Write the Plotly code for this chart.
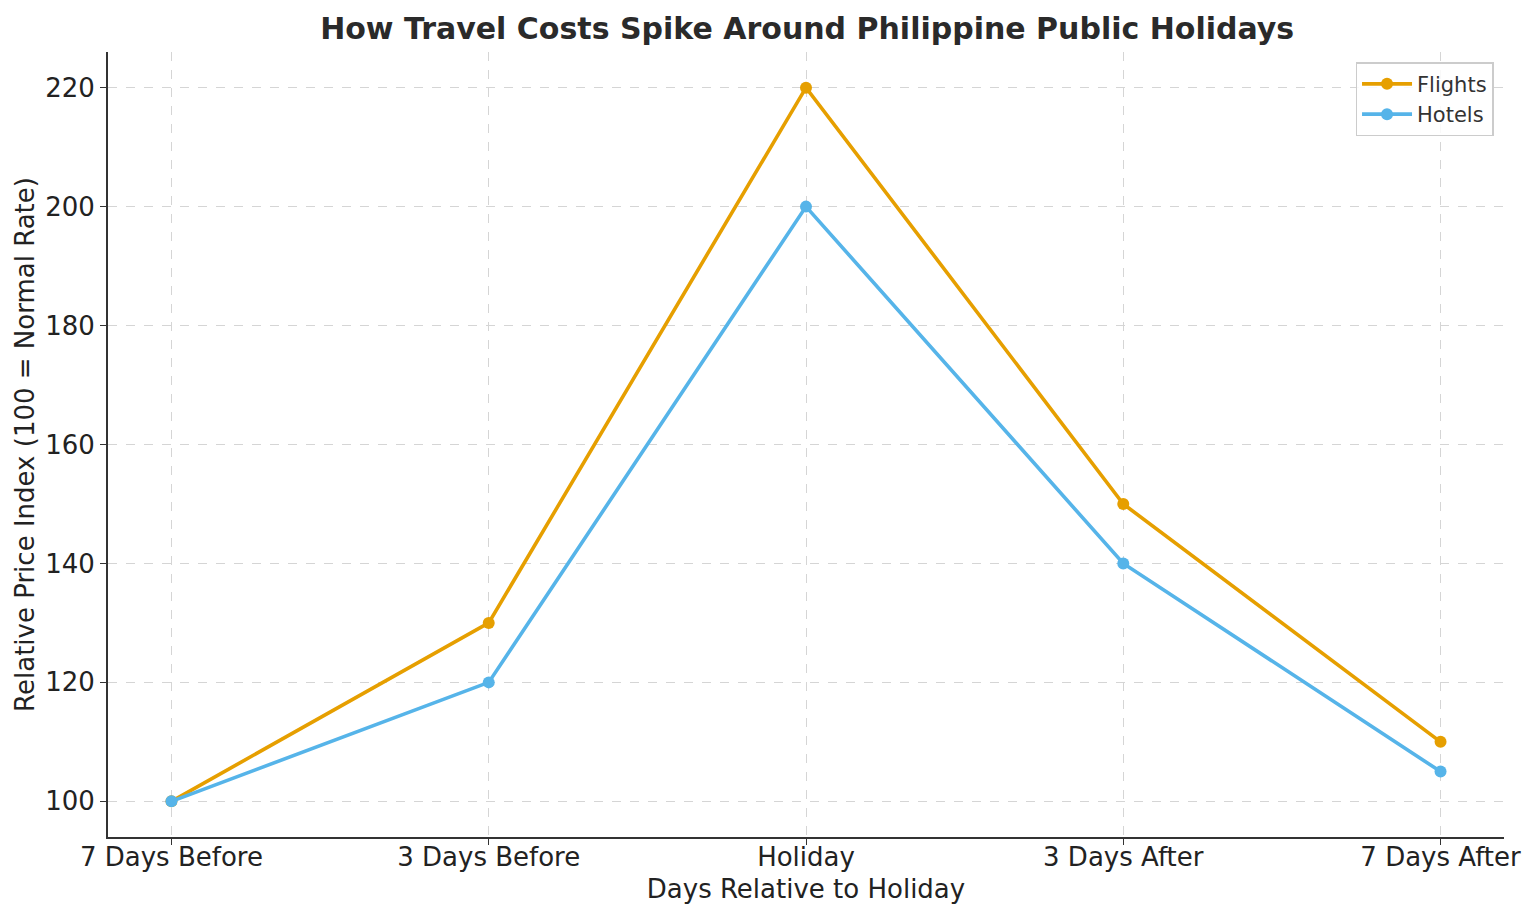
import plotly.graph_objects as go

categories = ["7 Days Before", "3 Days Before", "Holiday", "3 Days After", "7 Days After"]
flights = [100, 130, 220, 150, 110]
hotels = [100, 120, 200, 140, 105]

FONT = "DejaVu Sans"
fig = go.Figure()
fig.add_trace(go.Scatter(x=list(range(len(categories))), y=flights, mode="lines+markers", name="Flights",
                         line=dict(color="#E69F00", width=3.6), marker=dict(size=12, color="#E69F00")))
fig.add_trace(go.Scatter(x=list(range(len(categories))), y=hotels, mode="lines+markers", name="Hotels",
                         line=dict(color="#56B4E9", width=3.6), marker=dict(size=12, color="#56B4E9")))

fig.update_layout(
    width=1536, height=921,
    margin=dict(l=108, r=32, t=52, b=84),
    plot_bgcolor="white", paper_bgcolor="white",
    font=dict(family=FONT, color="#222222", size=26),
    title=dict(text="<b>How Travel Costs Spike Around Philippine Public Holidays</b>",
               x=0.5255, xanchor="center", y=0.969, yanchor="middle",
               font=dict(family=FONT, size=30, color="#2a2a2a")),
    legend=dict(x=0.9925, y=0.987, xanchor="right", yanchor="top",
                bgcolor="rgba(255,255,255,0.85)", bordercolor="#cccccc", borderwidth=1.5,
                font=dict(family=FONT, size=21, color="#333333"), itemwidth=50),
    showlegend=True,
)
fig.update_xaxes(
    range=[-0.2, 4.2], tickmode="array", tickvals=list(range(len(categories))), ticktext=categories,
    showline=True, linecolor="#333333", linewidth=1.8, ticks="outside", ticklen=6, tickcolor="#333333",
    showgrid=True, gridcolor="#d5d5d5", griddash="dash", gridwidth=1, zeroline=False,
    title=dict(text="Days Relative to Holiday", standoff=9, font=dict(size=26)),
    tickfont=dict(size=26), ticklabelstandoff=-10,
)
fig.update_yaxes(
    range=[94, 226], tickmode="array", tickvals=[100, 120, 140, 160, 180, 200, 220],
    showline=True, linecolor="#333333", linewidth=1.8, ticks="outside", ticklen=6, tickcolor="#333333",
    showgrid=True, gridcolor="#d5d5d5", griddash="dash", gridwidth=1, zeroline=False,
    title=dict(text="Relative Price Index (100 = Normal Rate)", standoff=3, font=dict(size=26)),
    tickfont=dict(size=26),
)
fig.write_html("out.html")
